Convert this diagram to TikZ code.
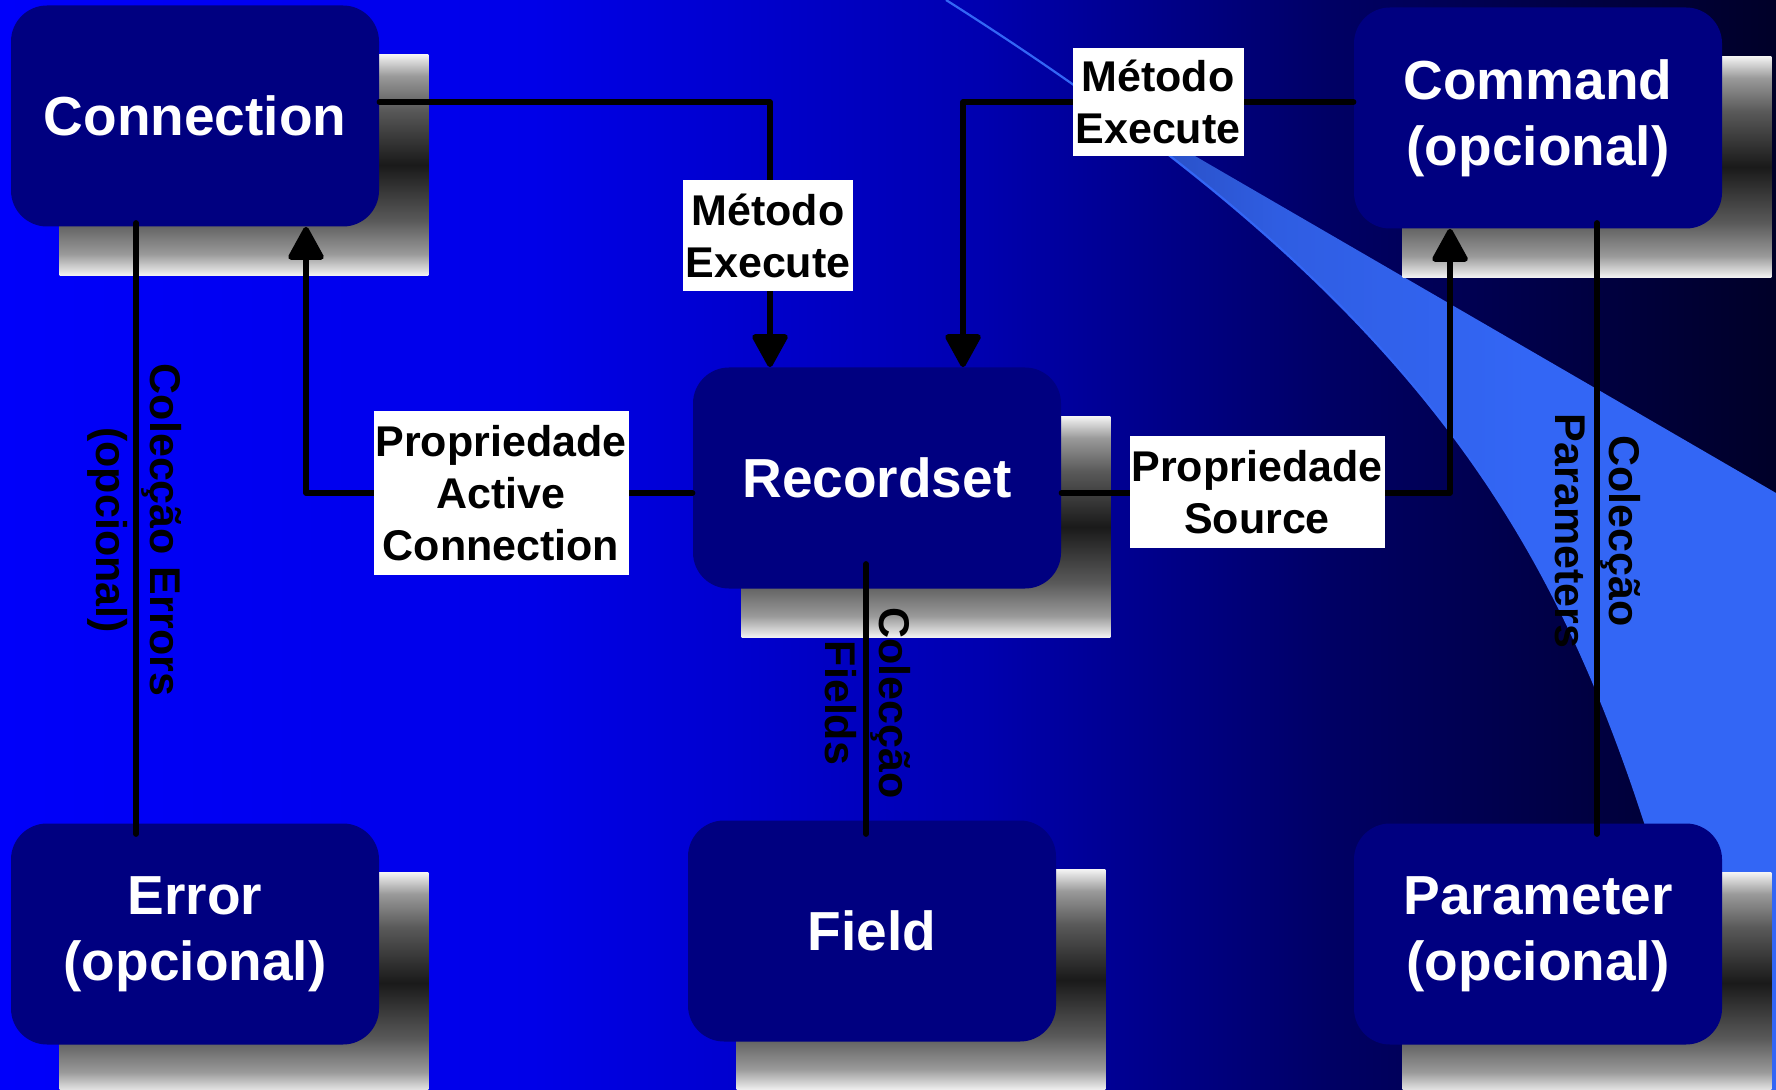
\documentclass[tikz,border=0pt]{standalone}
\usepackage{fontspec}
\setmainfont{Liberation Sans}
\usepackage{xcolor}
\usetikzlibrary{arrows.meta, backgrounds}

\definecolor{boxnavy}{RGB}{0,0,128}
\definecolor{bgblue}{RGB}{0,0,250}
\definecolor{bgmidA}{RGB}{0,0,232}
\definecolor{bgmidB}{RGB}{0,0,176}
\definecolor{bgmidC}{RGB}{0,0,100}
\definecolor{bgdark}{RGB}{0,0,40}
\definecolor{swooshdark}{RGB}{32,58,150}
\definecolor{swooshlight}{RGB}{51,102,245}

\pgfdeclarehorizontalshading{slidebg}{100bp}{%
  color(0bp)=(bgblue); color(25bp)=(bgblue); color(40bp)=(bgmidA);
  color(52.5bp)=(bgmidB); color(62.5bp)=(bgmidC); color(75bp)=(bgdark); color(100bp)=(bgdark)}
\pgfdeclarehorizontalshading{swooshfill}{100bp}{%
  color(0bp)=(swooshdark); color(25bp)=(swooshdark); color(45bp)=(swooshlight!80!swooshdark);
  color(60bp)=(swooshlight); color(100bp)=(swooshlight)}
\pgfdeclareverticalshading{boxshadow}{100bp}{%
  color(0bp)=(black!4); color(25bp)=(black!4); color(30bp)=(black!40); color(37.5bp)=(black!65);
  color(50bp)=(black!90); color(62.5bp)=(black!65); color(70bp)=(black!40); color(75bp)=(black!4); color(100bp)=(black!4)}

\begin{document}
\begin{tikzpicture}[x=0.5pt, y=-0.5pt,
    box/.style={rectangle, rounded corners=18pt, minimum width=184pt, minimum height=110.5pt, inner sep=0pt, fill=boxnavy, text=white, align=center, font=\fontsize{27.5}{33}\selectfont\bfseries},
    tag/.style={rectangle, fill=white, inner sep=0pt, align=center, font=\fontsize{21.5}{26}\selectfont\bfseries},
    sidetag/.style={rotate=-90, inner sep=0pt, align=center, font=\fontsize{21.5}{27}\selectfont\bfseries},
    link/.style={line width=2.75pt, line cap=round, line join=round},
    arrow/.style={link, -{Triangle[length=18pt, width=19pt, round]}}
]
\useasboundingbox (0,0) rectangle (1776,1090);

% ADO objects
\node[box] (conn) at (195,116) {Connection};
\node[box] (cmd) at (1538,118) {Command\\(opcional)};
\node[box] (rs) at (877,478) {Recordset};
\node[box] (err) at (195,934) {Error\\(opcional)};
\node[box] (fld) at (872,931) {Field};
\node[box] (par) at (1538,934) {Parameter\\(opcional)};

% Arrows between objects
\draw[arrow] ([yshift=7pt]conn.east) -| ([xshift=-53.5pt]rs.north);
\draw[arrow] ([yshift=8pt]cmd.west) -| ([xshift=43pt]rs.north);
\draw[arrow] ([yshift=-7.5pt]rs.west) -| ([xshift=55.5pt]conn.south);
\draw[arrow] ([yshift=-7.5pt]rs.east) -| ([xshift=-44pt]cmd.south);

% Collections
\draw[link] ([xshift=-29.5pt,yshift=2pt]conn.south) -- ([xshift=-29.5pt,yshift=-5.5pt]err.north);
\draw[link] ([xshift=-5.5pt,yshift=12.5pt]rs.south) -- ([xshift=-3pt,yshift=-7pt]fld.north);
\draw[link] ([xshift=29.5pt,yshift=3pt]cmd.south) -- ([xshift=29.5pt,yshift=-5.5pt]par.north);

% Labels
\node[tag, minimum width=85pt, minimum height=55.5pt] (exec1) at (768,236) {Método\\Execute};
\node[tag, minimum width=85.5pt, minimum height=54pt] (exec2) at (1158,102) {Método\\Execute};
\node[tag, minimum width=127.5pt, minimum height=82pt] (active) at (501,493) {Propriedade\\Active\\Connection};
\node[tag, minimum width=127.5pt, minimum height=56pt] (source) at (1257,492) {Propriedade\\Source};

\node[sidetag] (errs) at (135,530) {Colecção Errors\\(opcional)};
\node[sidetag] (flds) at (868,703) {Colecção\\Fields};
\node[sidetag] (pars) at (1598,531) {Colecção\\Parameters};

% Slide background, swoosh and shadows
\begin{scope}[on background layer]
\shade[shading=slidebg] (0,0) rectangle (1776,1090);
\begin{scope}
  \clip (1076,0) rectangle (1776,1090);
  \shade[shading=swooshfill] (946,0) .. controls (1530,370) and (1600,640) .. (1722,1090)
    -- (1776,1090) -- (1776,493) -- (1076,87) -- cycle;
\end{scope}
\draw[swooshlight, line width=1.1pt] (946,0) .. controls (1530,370) and (1600,640) .. (1722,1090);
\foreach \obj in {conn,cmd,rs,err,fld,par}
  \shade[shading=boxshadow] ([shift={(49,49)}]\obj.south west) rectangle ([shift={(49,49)}]\obj.north east);
\end{scope}

\end{tikzpicture}
\end{document}
